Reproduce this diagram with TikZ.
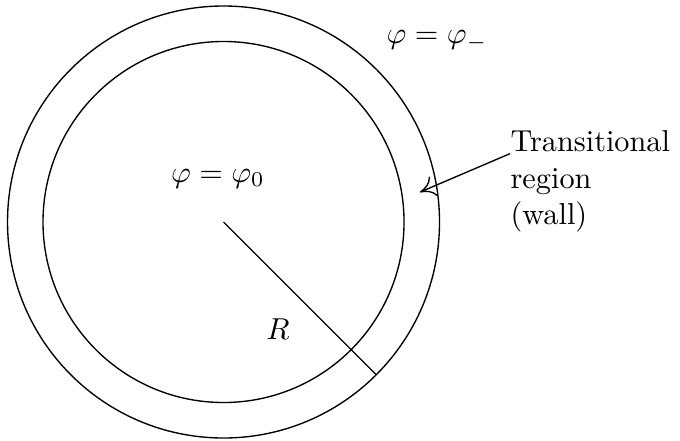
\documentclass[tikz,border=0pt]{standalone}
\usepackage{amsmath,amssymb}
\usetikzlibrary{arrows.meta,positioning}

\begin{document}
\begin{tikzpicture}[
  ring/.style={draw, line width=0.45pt},
  pointer/.style={-{To[length=5pt,width=7pt]}, line width=0.45pt},
  label/.style={inner sep=0pt}
]
\useasboundingbox (0pt,0pt) rectangle (224.4pt,145.2pt);

% Bubble: inner region and wall
\coordinate (c) at (73.76pt,71.94pt);
\draw[ring] (c) circle (71.28pt);
\draw[ring] (c) circle (59.57pt);

% Radius
\draw[line width=0.45pt] (c) -- ++(-45:71.28pt) coordinate (rim);

% Labels
\node[label] (outside) at (144.2pt,131.8pt) {$\varphi = \varphi_-$};
\node[label] (inside) at (71.9pt,86.3pt) {$\varphi = \varphi_0$};
\node[label] (radius) at (91.7pt,36.5pt) {$R$};
\node[label, anchor=north west, align=left] (wall) at (168.3pt,102.3pt)
  {Transitional\\region\\(wall)};

% Pointer into the wall
\coordinate (tip) at (138.6pt,81.8pt);
\draw[pointer] ([yshift=-7.8pt]wall.north west) -- (tip);
\end{tikzpicture}
\end{document}
